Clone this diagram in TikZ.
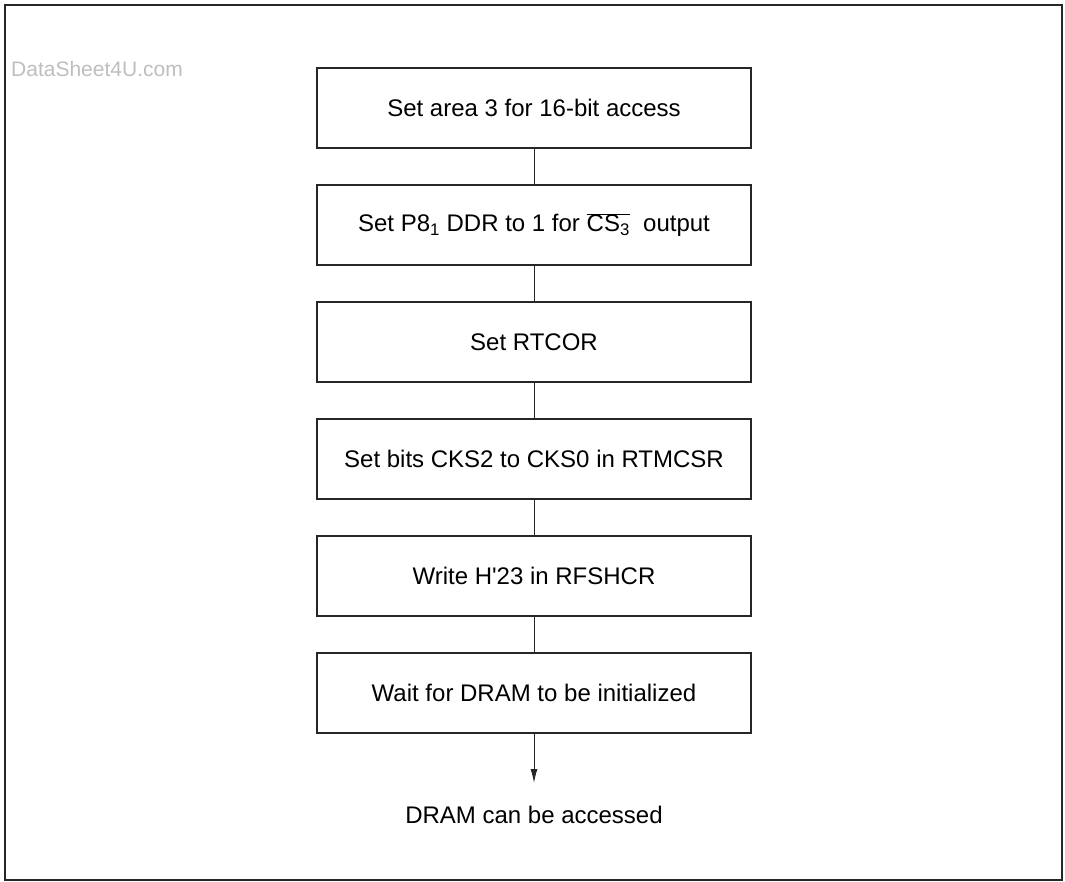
\documentclass[tikz,border=0pt]{standalone}
\usepackage{fontspec}
\setmainfont{Liberation Sans}
\usepackage{tikz}
\usetikzlibrary{arrows.meta, positioning}
\definecolor{Marca}{RGB}{190, 190, 190}

\begin{document}
\begin{tikzpicture}[
        x=1pt, y=-1pt,
        every node/.style={font=\fontsize{24}{28}\selectfont},
        frame/.style={line width=2pt, draw=black!85},
        paso/.style={draw=black!85, line width=1.6pt, minimum width=434pt, minimum height=80pt, inner sep=0pt, outer sep=0pt},
        enlace/.style={draw=black!85, line width=1pt},
        watermark/.style={text=Marca, font=\fontsize{21}{25}\selectfont}
    ]
        % Tamano fijo de la pagina (1065 x 882)
        \useasboundingbox (0,0) rectangle (1065,882);
        % Marco exterior
        \draw[frame] (5,5) rectangle (1062,880);

        % Marca de agua arriba a la izquierda
        \node[watermark, anchor=east, inner sep=0pt] (wm) at (183,69) {DataSheet4U.com};

        % Pasos de inicializacion (uno debajo del otro)
        \node[paso] (s1) at (534,108) {Set area 3 for 16-bit access};
        \node[paso, below=37pt of s1] (s2) {Set P8\textsubscript{1} DDR to 1 for $\overline{\mbox{CS\textsubscript{3}}}$\ \ output};
        \node[paso, below=37pt of s2] (s3) {Set RTCOR};
        \node[paso, below=37pt of s3] (s4) {Set bits CKS2 to CKS0 in RTMCSR};
        \node[paso, below=37pt of s4] (s5) {Write H\textquotesingle23 in RFSHCR};
        \node[paso, below=37pt of s5] (s6) {Wait for DRAM to be initialized};

        % Resultado final
        \node[below=70pt of s6] (fin) {DRAM can be accessed};

        % Lineas entre pasos
        \draw[enlace] (s1) -- (s2);
        \draw[enlace] (s2) -- (s3);
        \draw[enlace] (s3) -- (s4);
        \draw[enlace] (s4) -- (s5);
        \draw[enlace] (s5) -- (s6);
        % Flecha hacia el resultado
        \draw[enlace, -{Latex[length=14pt, width=7pt]}, shorten >=20pt] (s6) -- (fin);
    \end{tikzpicture}
\end{document}
